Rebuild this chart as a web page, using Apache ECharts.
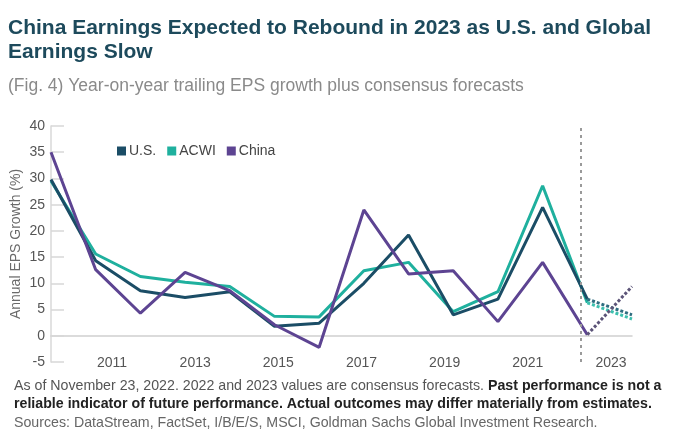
<!DOCTYPE html>
<html>
<head>
<meta charset="utf-8">
<script src="https://cdn.jsdelivr.net/npm/echarts@6/dist/echarts.min.js"></script>
<style>
html,body{margin:0;padding:0;background:#fff;}
#c{width:673px;height:443px;}
</style>
</head>
<body>
<div id="c"></div>
<script>
const years = [2010,2011,2012,2013,2014,2015,2016,2017,2018,2019,2020,2021,2022,2023];
const usValues    = [29.8,14.3,8.6,7.3,8.4,1.8,2.4,10.0,19.2,4.0,7.0,24.5,7.0,4.0];
const acwiValues  = [29.5,15.6,11.3,10.2,9.4,3.7,3.6,12.4,14.0,4.6,8.4,28.6,6.3,3.2];
const chinaValues = [35.0,12.6,4.3,12.1,8.6,2.1,-2.2,24.0,11.8,12.4,2.7,14.0,0.2,9.4];
const xTickLabels = [2011,2013,2015,2017,2019,2021,2023];
const forecastStart = 2022;
const forecastDivider = 2021.86;

const FONT = "'Liberation Sans',Arial,Helvetica,sans-serif";
const colors = {us:'#1b4d66', acwi:'#1fb09e', china:'#5d4492'};

function pairs(vals, from, to){
  const out=[];
  years.forEach((y,i)=>{ if(y>=from && y<=to) out.push([y, vals[i]]); });
  return out;
}
function mk(name, vals, color, dashColor){
  return [
    {name:name, type:'line', xAxisIndex:0, data:pairs(vals, years[0], forecastStart),
     symbol:'none', lineStyle:{color:color, width:3}, itemStyle:{color:color}, z:3},
    {name:name+'_f', type:'line', xAxisIndex:0, data:pairs(vals, forecastStart, years[years.length-1]),
     symbol:'none', lineStyle:{color:dashColor, width:3, type:[3,2]}, z:3}
  ];
}

const chart = echarts.init(document.getElementById('c'), null, {renderer:'canvas'});
const series = [
  ...mk('ACWI', acwiValues, colors.acwi, '#3dbfae'),
  ...mk('U.S.', usValues, colors.us, '#2f6d80'),
  ...mk('China', chinaValues, colors.china, '#5c5478'),
];
series[0].markLine = {
  silent:true, symbol:'none', label:{show:false},
  lineStyle:{color:'#9a9a9a', type:[3,4], width:2},
  data:[{xAxis:forecastDivider}]
};
chart.setOption({
  animation:false,
  backgroundColor:'#fff',
  title:[
    {text:'China Earnings Expected to Rebound in 2023 as U.S. and Global\nEarnings Slow',
     left:3, top:11,
     textStyle:{fontFamily:FONT, fontSize:21, fontWeight:'bold', color:'#1d4a5c', lineHeight:24}},
    {text:'(Fig. 4) Year-on-year trailing EPS growth plus consensus forecasts',
     left:3, top:72,
     textStyle:{fontFamily:FONT, fontSize:17.5, fontWeight:'normal', color:'#8a8a8a'}}
  ],
  legend:{
    data:['U.S.','ACWI','China'],
    left:112, top:139, itemWidth:9, itemHeight:9, itemGap:11, icon:'rect',
    textStyle:{fontFamily:FONT, fontSize:14, color:'#444', padding:[0,0,0,-2]}
  },
  grid:{left:51, right:41, top:126, bottom:81, containLabel:false, outerBoundsMode:'none'},
  xAxis:[
    {type:'value', min:years[0], max:years[years.length-1],
     axisLine:{show:true, onZero:true, lineStyle:{color:'#d0d0d0', width:1.5}},
     axisTick:{show:false}, axisLabel:{show:false}, splitLine:{show:false}},
    {type:'value', min:2009.533, max:2023.505, position:'bottom',
     axisLine:{show:false}, axisTick:{show:false}, splitLine:{show:false},
     axisLabel:{show:true, customValues:xTickLabels, formatter:v=>String(v),
       fontFamily:FONT, fontSize:14, color:'#555', margin:1, verticalAlign:'middle'}}
  ],
  yAxis:{
    type:'value', min:-5, max:40, interval:5,
    name:'Annual EPS Growth (%)', nameLocation:'middle', nameGap:28, nameMoveOverlap:false,
    nameTextStyle:{fontFamily:FONT, fontSize:14, color:'#6a6a6a'},
    axisLine:{show:true, lineStyle:{color:'#d8d8d8', width:1.5}},
    axisTick:{show:true, inside:true, length:13, lineStyle:{color:'#d8d8d8', width:1.5}},
    axisLabel:{fontFamily:FONT, fontSize:14, color:'#555', margin:6},
    splitLine:{show:false}
  },
  series:series,
  graphic:[
    {type:'text', left:14, top:379, style:{
      text:'{r|As of November 23, 2022. 2022 and 2023 values are consensus forecasts. }{b|Past performance is not a}',
      rich:{r:{fontFamily:FONT, fontSize:14.2, fill:'#555'}, b:{fontFamily:FONT, fontSize:14.2, fontWeight:'bold', fill:'#222'}}}},
    {type:'text', left:14, top:397, style:{
      text:'reliable indicator of future performance. Actual outcomes may differ materially from estimates.',
      fontFamily:FONT, fontSize:14.2, fontWeight:'bold', fill:'#222'}},
    {type:'text', left:14, top:416, style:{
      text:'Sources: DataStream, FactSet, I/B/E/S, MSCI, Goldman Sachs Global Investment Research.',
      fontFamily:FONT, fontSize:14.2, fill:'#666'}}
  ]
});
</script>
</body>
</html>
